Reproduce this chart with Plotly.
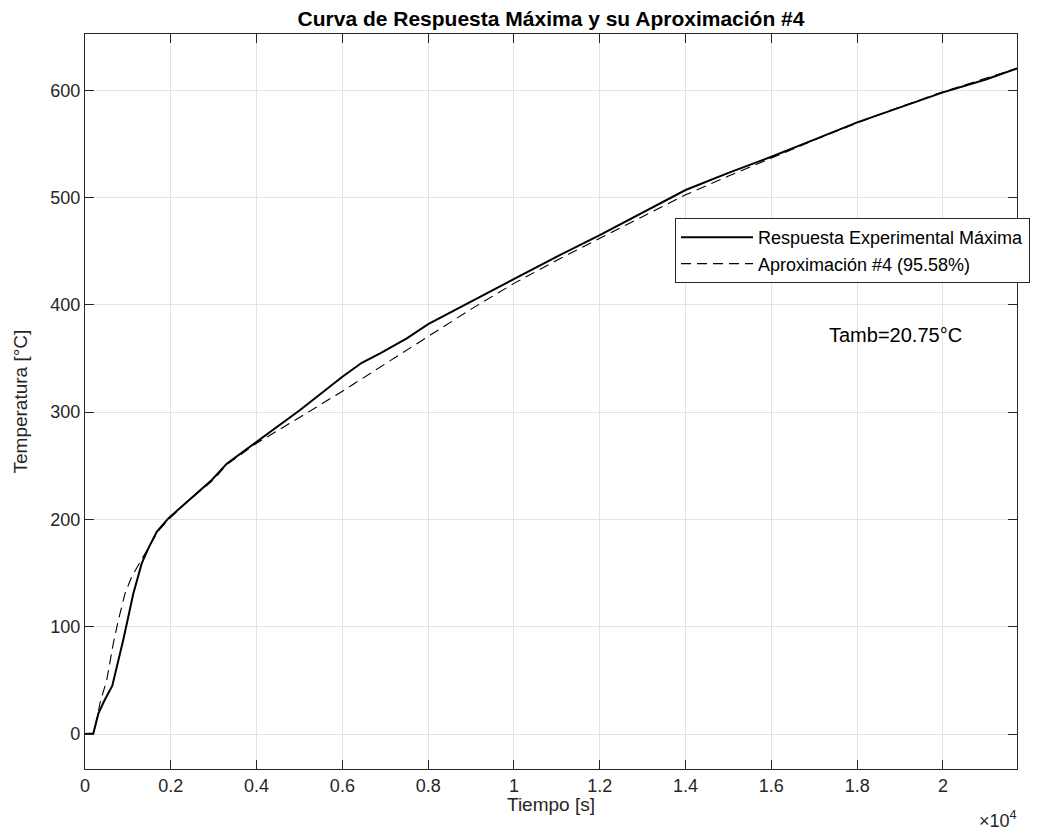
import plotly.graph_objects as go

# Experimental maximum response
t_exp = [0, 100, 194, 311, 450, 637, 894, 1127, 1322, 1477, 1672, 1943, 2371, 2682, 2955,
         3305, 4004, 5014, 6000, 6452, 6880, 7502, 8000, 9000, 10000, 11000, 12000, 13000,
         14000, 15000, 16000, 17000, 18000, 19000, 20000, 21000, 21726]
T_exp = [0, 0, 0.5, 19, 31, 45, 88, 131, 159, 173, 188.5, 201, 216.5, 227.4, 236.7,
         252, 272.4, 302, 333, 346, 354.8, 368.8, 382, 403, 424.7, 445, 465, 486,
         507, 523, 538, 554, 570, 584, 598, 610, 620.4]

# Approximation #4
t_apr = [0, 194, 300, 350, 505, 660, 777, 933, 1089, 1360, 1500, 1700, 2000, 2400, 3000,
         3300, 4000, 4547, 5000, 6000, 7000, 8000, 9000, 10000, 11000, 12000, 13000,
         14000, 15000, 16000, 17000, 18000, 19000, 20000, 21000, 21726]
T_apr = [0, 0, 18, 29, 50, 84.5, 106, 131, 146.6, 165, 175, 189, 202, 217, 237,
         251, 271, 284, 295, 319.5, 345, 371, 396, 420, 441.5, 462, 482.5,
         502.5, 520, 537, 553.5, 569.5, 584.5, 598.5, 611, 620.4]

x_tickvals = [0, 2000, 4000, 6000, 8000, 10000, 12000, 14000, 16000, 18000, 20000]
x_ticktext = ["0", "0.2", "0.4", "0.6", "0.8", "1", "1.2", "1.4", "1.6", "1.8", "2"]
y_tickvals = [0, 100, 200, 300, 400, 500, 600]

title_text = "Curva de Respuesta Máxima y su Aproximación #4"
name_exp = "Respuesta Experimental Máxima"
name_apr = "Aproximación #4 (95.58%)"
note_text = "Tamb=20.75°C"

AX = "#262626"
FONT = "Arial, Liberation Sans, Helvetica, sans-serif"

W, H = 1024, 822

fig = go.Figure()
fig.add_trace(go.Scatter(x=t_exp, y=T_exp, mode="lines", name=name_exp,
                         line=dict(color="black", width=2)))
fig.add_trace(go.Scatter(x=t_apr, y=T_apr, mode="lines", name=name_apr,
                         line=dict(color="black", width=1.1, dash="10px,6px")))

fig.update_layout(
    width=W, height=H,
    margin=dict(l=77, r=15, t=26, b=61, autoexpand=False),
    paper_bgcolor="white", plot_bgcolor="white",
    font=dict(family=FONT, size=18, color=AX),
    title=dict(text="<b>" + title_text + "</b>", x=0.5, xref="paper", xanchor="center",
               y=1 - 11 / H, yanchor="middle", font=dict(size=21, color="black")),
    showlegend=True,
    legend=dict(x=(675 - 85) / 932, y=(769 - 218) / 735, xanchor="left", yanchor="top",
                bgcolor="white", bordercolor="#262626", borderwidth=1,
                font=dict(size=18, color="black"), itemwidth=72, tracegroupgap=0),
    xaxis=dict(range=[0, 21726], tickvals=x_tickvals, ticktext=x_ticktext,
               showgrid=True, gridcolor="#e3e3e3", gridwidth=1,
               showline=True, linecolor=AX, linewidth=1.3, mirror="ticks",
               ticks="inside", ticklen=9, tickcolor=AX, tickwidth=1.3,
               zeroline=False, tickfont=dict(size=18, color=AX)),
    yaxis=dict(range=[-32.6, 652.4], tickvals=y_tickvals,
               showgrid=True, gridcolor="#e3e3e3", gridwidth=1,
               showline=True, linecolor=AX, linewidth=1.3, mirror="ticks",
               ticks="inside", ticklen=9, tickcolor=AX, tickwidth=1.3,
               zeroline=False, tickfont=dict(size=18, color=AX)),
    annotations=[
        dict(text="Tiempo [s]", xref="paper", yref="paper", x=0.5, y=0,
             xanchor="center", yanchor="middle", yshift=-35, showarrow=False,
             font=dict(size=19, color=AX)),
        dict(text="Temperatura [°C]", xref="paper", yref="paper", x=0, y=0.5,
             xanchor="center", yanchor="middle", xshift=-65, textangle=-90,
             showarrow=False, font=dict(size=19, color=AX)),
        dict(text="×10<sup>4</sup>", xref="paper", yref="paper", x=1, y=0,
             xanchor="right", yanchor="middle", yshift=-50, xshift=2, showarrow=False,
             font=dict(size=18, color=AX)),
        dict(text=note_text, x=17300, y=372, xref="x", yref="y", xanchor="left",
             yanchor="middle", showarrow=False, font=dict(size=20, color="black")),
    ],
)

fig.write_html("out.html")
